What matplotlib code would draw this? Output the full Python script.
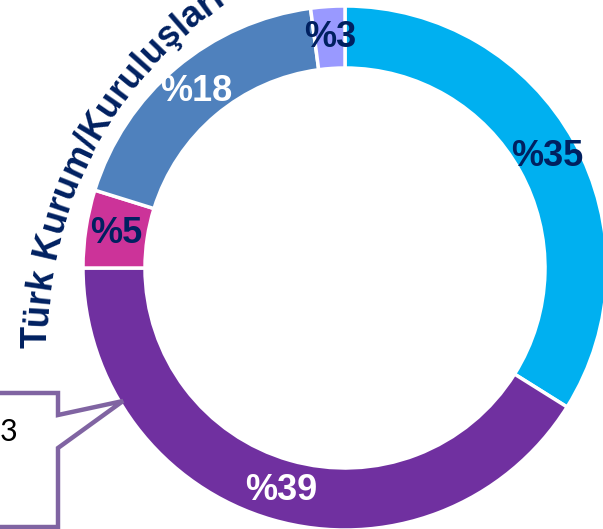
import numpy as np
import matplotlib
matplotlib.use("Agg")
import matplotlib.pyplot as plt
from matplotlib.patches import Polygon
from matplotlib.font_manager import FontProperties, findfont, get_font

# ---- data ----
categories = ["A", "B", "C", "D", "E"]
values = [33.9, 41.1, 4.8, 18.1, 2.1]
labels = ["%35", "%39", "%5", "%18", "%3"]
colors = ["#00B0F0", "#7030A0", "#CC3399", "#4F81BD", "#9999FF"]
label_colors = ["#002060", "white", "#002060", "white", "#002060"]
title_text = "Türk Kurum/Kuruluşları"
callout_text = "3"

W, H = 603, 529
fig = plt.figure(figsize=(W / 100, H / 100), dpi=100)
ax = fig.add_axes([0, 0, 1, 1])

def Y(y):
    return H - y

cx, cy, R = 345, Y(268), 262
ring = 62

wedges, texts = ax.pie(values, labels=labels, colors=colors, startangle=90,
                       counterclock=False, center=(cx, cy), radius=R,
                       labeldistance=(R - ring / 2) / R,
                       wedgeprops=dict(width=ring, edgecolor="white", linewidth=2.5))
for t, c in zip(texts, label_colors):
    t.set_ha("center")
    t.set_va("center")
    t.set_color(c)
    t.set_fontsize(26)
    t.set_fontweight("bold")
    t.set_family("Liberation Sans")

ax.set_xlim(0, W)
ax.set_ylim(0, H)
ax.set_aspect("equal")
ax.axis("off")

# callout box (partly off canvas)
pts = [(-10, 393), (58, 393), (58, 415), (123, 401), (58, 448), (58, 527), (-10, 527)]
poly = Polygon([(x, Y(y)) for x, y in pts], closed=True, facecolor="white",
               edgecolor="#8064A2", linewidth=3.2, zorder=3, joinstyle="miter")
ax.add_patch(poly)
ax.text(17, Y(432), callout_text, ha="right", va="center", fontsize=22,
        family="Lato", color="black", zorder=4)

# curved title text
fsize = 26
fp = FontProperties(family="Liberation Sans", weight="bold")
font = get_font(findfont(fp))
font.set_size(fsize, 100)
def adv(ch):
    g = font.load_char(ord(ch))
    return g.linearHoriAdvance / 65536.0

tcx, tcy = 451, Y(338)
Rb = 404
adv_list = [adv(c) for c in title_text]
alpha_T = np.deg2rad(179.8)
alpha_start = alpha_T + (adv_list[0] / 2) / Rb
s = 0.0
for ch, w in zip(title_text, adv_list):
    a = alpha_start - (s + w / 2) / Rb
    x = tcx + Rb * np.cos(a)
    y = tcy + Rb * np.sin(a)
    ax.text(x, y, ch, rotation=np.rad2deg(a) - 90, rotation_mode="anchor",
            ha="center", va="baseline", fontsize=fsize, fontweight="bold",
            family="Liberation Sans", color="#002060", clip_on=False)
    s += w

fig.savefig("out.png", dpi=100)
